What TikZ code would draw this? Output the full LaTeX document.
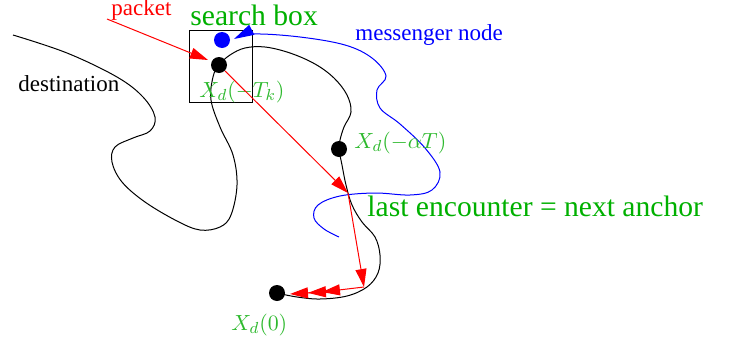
\documentclass[tikz,border=0pt]{standalone}
\usepackage{fontspec}
\setmainfont{Liberation Serif}
\usepackage{tikz}
\usetikzlibrary{positioning,arrows.meta,calc}

\definecolor{figgreen}{RGB}{0,176,0}
\definecolor{labgreen}{RGB}{45,185,45}

\begin{document}
\begin{tikzpicture}[
    x=0.5pt, y=-0.5pt,
    dot/.style={circle, fill=black, inner sep=0pt, minimum size=8pt},
    tag/.style={font=\rmfamily\fontsize{11.5}{13}\selectfont, inner sep=0pt, anchor=base west},
    mathtag/.style={font=\fontsize{11}{13}\selectfont, text=labgreen, inner sep=0pt, anchor=base west},
    bigtag/.style={font=\rmfamily\fontsize{14.8}{17}\selectfont, text=figgreen, inner sep=0pt, anchor=base west},
    hop/.style={red, line width=0.5pt, -{Triangle[length=9pt,width=5.5pt]}},
    track/.style={line width=0.5pt},
]
  \useasboundingbox (0,0) rectangle (729,343);

  % destination trajectory
  \draw[track] plot[smooth, tension=0.6] coordinates {
    (13,35) (67,53) (117,77) (143,97) (155,117) (150,131) (133,138) (115,147)
    (112,162) (122,182) (145,202) (177,221) (200,230) (220,227) (231,215)
    (237,185) (233,155) (220,127) (211,100) (213,77) (219,65) (230,55)
    (245,48) (265,47) (290,53) (315,64) (334,78) (347,95) (351,112) (344,127)
    (340,140) (339,149) (342,165) (346,185) (352,205) (362,222) (375,237)
    (380,255) (378,273) (367,287) (347,296) (320,299) (297,297) (277,293)};

  \draw[line width=0.5pt] (189,30) rectangle (252,102);

  \node[dot] (dk) at (219,65) {};
  \node[dot] (da) at (339,149) {};
  \node[dot] (d0) at (277,293) {};
  \node[dot, fill=blue] (msg) at (222,40) {};

  % messenger path
  \draw[blue, line width=0.5pt, -{Triangle[length=10pt,width=5.5pt]}]
    plot[smooth, tension=0.6] coordinates {
    (339,237) (324,229) (314,218) (318,205) (340,196) (375,193) (410,195)
    (432,190) (440,172) (425,148) (400,124) (380,108) (377,90) (386,76)
    (372,58) (345,45) (300,37) (254,34) (234,39)};

  \node[tag, text=red] (packet) at (111,15) {packet};
  \node[bigtag] (sbox) at (190,25) {search box};
  \node[tag, text=blue] (mnode) at (355,40) {messenger node};
  \node[tag] (dest) at (18,91) {destination};
  \node[mathtag] (lk) at (199,97) {$X_d(-T_k)$};
  \node[mathtag] (la) at (354,148) {$X_d(-\alpha T)$};
  \node[mathtag] (l0) at (231,330) {$X_d(0)$};
  \node[bigtag] (anchor) at (367,216) {last encounter = next anchor};

  \coordinate (pk) at (107,19);
  \coordinate (hit) at (208,60);
  \coordinate (enc) at (348,193);
  \coordinate (turn) at (364,287);
  \coordinate (m1) at (322,292);
  \coordinate (m2) at (290,294);

  \draw[hop] (pk) -- (hit);
  \draw[hop] (dk) -- (enc);
  \draw[hop] (enc) -- (turn);
  \draw[hop] (turn) -- (m1);
  \draw[red, line width=0.5pt, -{Triangle[length=9pt,width=5.5pt]Triangle[length=9pt,width=5.5pt]}] (m1) -- (m2);
\end{tikzpicture}
\end{document}
